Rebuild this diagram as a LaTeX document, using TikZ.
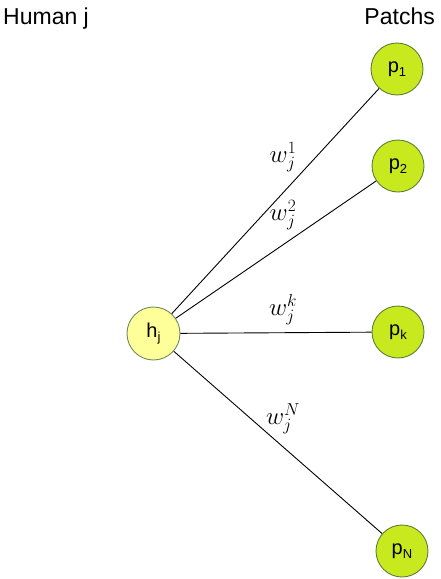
\documentclass[tikz,border=0pt]{standalone}
\usepackage{fontspec}
\setsansfont{Liberation Sans}
\begin{document}
\begin{tikzpicture}[x=1pt,y=-1pt,
  hnode/.style={circle,draw=hborder,fill=hfill,line width=0.9pt,minimum size=53pt,inner sep=0pt,font=\sffamily\fontsize{20}{24}\selectfont},
  pnode/.style={circle,draw=pborder,fill=pfill,line width=0.9pt,minimum size=52pt,inner sep=0pt,font=\sffamily\fontsize{20}{24}\selectfont},
  conn/.style={draw=black,line width=0.9pt},
  wlbl/.style={inner sep=0pt,font=\fontsize{26}{30}\selectfont},
  head/.style={inner sep=0pt,font=\sffamily\fontsize{23}{27}\selectfont}]
\definecolor{hfill}{HTML}{FFFF99}
\definecolor{hborder}{HTML}{6E8A5E}
\definecolor{pfill}{HTML}{C8E91E}
\definecolor{pborder}{HTML}{5E7E3A}
\newcommand{\nsub}[1]{\raisebox{-0.4ex}{\fontsize{13}{14}\selectfont #1}}
\useasboundingbox (0,0) rectangle (441,579);
\node[head,anchor=base west] (hum) at (3,24) {Human j};
\node[head,anchor=base east] (pat) at (435,24) {Patchs};
\node[hnode] (h) at (153.5,333.5) {h\nsub{j}};
\node[pnode] (p1) at (397,69) {p\nsub{1}};
\node[pnode] (p2) at (398,166) {p\nsub{2}};
\node[pnode] (pk) at (398,332) {p\nsub{k}};
\node[pnode] (pN) at (402,551) {p\nsub{N}};
\draw[conn] (h) -- (p1);
\draw[conn] (h) -- (p2);
\draw[conn] (h) -- (pk);
\draw[conn] (h) -- (pN);
\node[wlbl] (w1) at (283,157) {$w^{1}_{j}$};
\node[wlbl] (w2) at (283,215) {$w^{2}_{j}$};
\node[wlbl] (wk) at (283,310) {$w^{k}_{j}$};
\node[wlbl] (wN) at (283,419) {$w^{N}_{j}$};
\end{tikzpicture}
\end{document}
